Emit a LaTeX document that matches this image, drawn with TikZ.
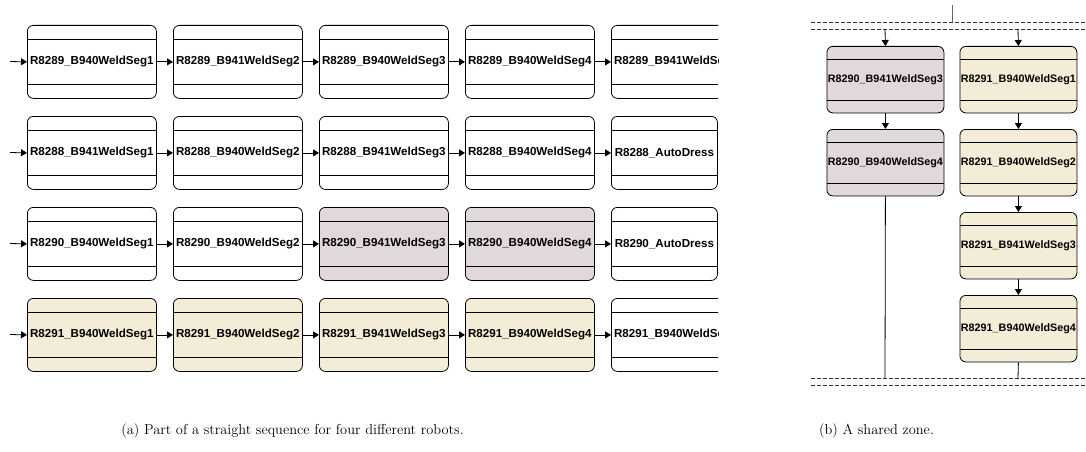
\documentclass[tikz,border=0pt]{standalone}
\usepackage{fontspec}
\newfontfamily\boxfont{Liberation Sans}
\usetikzlibrary{arrows.meta}
\definecolor{lilac}{RGB}{225,216,220}
\definecolor{sand}{RGB}{243,236,214}
\begin{document}
\begin{tikzpicture}[x=1pt,y=-1pt,line width=0.8pt,
  seqbox/.style={draw, rounded corners=6pt, inner sep=0pt, anchor=north west,
    minimum width=129pt, minimum height=73pt,
    font=\boxfont\bfseries\fontsize{11.6}{13}\selectfont,
    path picture={
      \draw ([yshift=-14pt]path picture bounding box.north west) -- ([yshift=-14pt]path picture bounding box.north east);
      \draw ([yshift=14pt]path picture bounding box.south west) -- ([yshift=14pt]path picture bounding box.south east);}},
  zonebox/.style={draw, rounded corners=6pt, inner sep=0pt, anchor=north west,
    minimum width=117pt, minimum height=66.5pt,
    font=\boxfont\bfseries\fontsize{10.8}{12}\selectfont,
    path picture={
      \draw ([yshift=-13pt]path picture bounding box.north west) -- ([yshift=-13pt]path picture bounding box.north east);
      \draw ([yshift=13pt]path picture bounding box.south west) -- ([yshift=13pt]path picture bounding box.south east);}},
  flow/.style={-{Triangle[length=6pt,width=7pt]}},
  zone/.style={line width=0.7pt, dash pattern=on 4pt off 2pt, black!80},
  captext/.style={font=\fontsize{14.4}{17}\selectfont}]
\useasboundingbox (0,0) rectangle (1086,452);

% ---------- (a) straight sequences ----------
\begin{scope}
\clip (0,0) rectangle (718,452);
% row 1
\node[seqbox] (a1) at (27,25) {R8289\_B940WeldSeg1};
\node[seqbox] (a2) at (173,25) {R8289\_B941WeldSeg2};
\node[seqbox] (a3) at (319,25) {R8289\_B940WeldSeg3};
\node[seqbox] (a4) at (465,25) {R8289\_B940WeldSeg4};
\node[seqbox] (a5) at (611,25) {R8289\_B941WeldSeg5};
% row 2
\node[seqbox] (b1) at (27,116) {R8288\_B941WeldSeg1};
\node[seqbox] (b2) at (173,116) {R8288\_B940WeldSeg2};
\node[seqbox] (b3) at (319,116) {R8288\_B941WeldSeg3};
\node[seqbox] (b4) at (465,116) {R8288\_B940WeldSeg4};
\node[seqbox, minimum width=106pt] (b5) at (611,116) {R8288\_AutoDress};
% row 3
\node[seqbox] (c1) at (27,207) {R8290\_B940WeldSeg1};
\node[seqbox] (c2) at (173,207) {R8290\_B940WeldSeg2};
\node[seqbox, fill=lilac] (c3) at (319,207) {R8290\_B941WeldSeg3};
\node[seqbox, fill=lilac] (c4) at (465,207) {R8290\_B940WeldSeg4};
\node[seqbox, minimum width=106pt] (c5) at (611,207) {R8290\_AutoDress};
% row 4
\node[seqbox, fill=sand] (d1) at (27,298) {R8291\_B940WeldSeg1};
\node[seqbox, fill=sand] (d2) at (173,298) {R8291\_B940WeldSeg2};
\node[seqbox, fill=sand] (d3) at (319,298) {R8291\_B941WeldSeg3};
\node[seqbox, fill=sand] (d4) at (465,298) {R8291\_B940WeldSeg4};
\node[seqbox] (d5) at (611,298) {R8291\_B940WeldSeg5};

\coordinate (sa) at (10,61.5);
\coordinate (sb) at (10,152.5);
\coordinate (sc) at (10,243.5);
\coordinate (sd) at (10,334.5);
\coordinate (eb) at (720,152.5);
\coordinate (ec) at (720,243.5);
\foreach \r in {a,b,c,d}{
  \draw[flow] (s\r) -- (\r1.west);
  \draw[flow] (\r1.east) -- (\r2.west);
  \draw[flow] (\r2.east) -- (\r3.west);
  \draw[flow] (\r3.east) -- (\r4.west);
  \draw[flow] (\r4.east) -- (\r5.west);
}
\draw (b5.east) -- (eb);
\draw (c5.east) -- (ec);
\end{scope}

% ---------- (b) shared zone ----------
\coordinate (zt) at (952,5);
\coordinate (ztb) at (952,22);
\coordinate (zl1) at (811,22);
\coordinate (zr1) at (1086,22);
\coordinate (zl2) at (811,29);
\coordinate (zr2) at (1086,29);
\coordinate (zl3) at (811,378);
\coordinate (zr3) at (1086,378);
\coordinate (zl4) at (811,385);
\coordinate (zr4) at (1086,385);
\draw[line width=1pt, black!60] (zt) -- (ztb);
\draw[zone] (zl1) -- (zr1);
\draw[zone] (zl2) -- (zr2);
\draw[zone] (zl3) -- (zr3);
\draw[zone] (zl4) -- (zr4);

\node[zonebox, fill=lilac] (p1) at (826.5,46) {R8290\_B941WeldSeg3};
\node[zonebox, fill=lilac] (p2) at (826.5,129) {R8290\_B940WeldSeg4};
\node[zonebox, fill=sand] (q1) at (959.5,46) {R8291\_B940WeldSeg1};
\node[zonebox, fill=sand] (q2) at (959.5,129) {R8291\_B940WeldSeg2};
\node[zonebox, fill=sand] (q3) at (959.5,212) {R8291\_B941WeldSeg3};
\node[zonebox, fill=sand] (q4) at (959.5,295) {R8291\_B940WeldSeg4};

\coordinate (pin) at (885,29);
\coordinate (qin) at (1018,29);
\coordinate (pout) at (885,378);
\coordinate (qout) at (1018,378);
\draw[flow] (pin) -- (p1.north);
\draw[flow] (p1.south) -- (p2.north);
\draw (p2.south) -- (pout);
\draw[flow] (qin) -- (q1.north);
\draw[flow] (q1.south) -- (q2.north);
\draw[flow] (q2.south) -- (q3.north);
\draw[flow] (q3.south) -- (q4.north);
\draw (q4.south) -- (qout);

% ---------- captions ----------
\node[captext] (capa) at (292.5,431) {(a) Part of a straight sequence for four different robots.};
\node[captext] (capb) at (876.5,431) {(b) A shared zone.};
\end{tikzpicture}
\end{document}
